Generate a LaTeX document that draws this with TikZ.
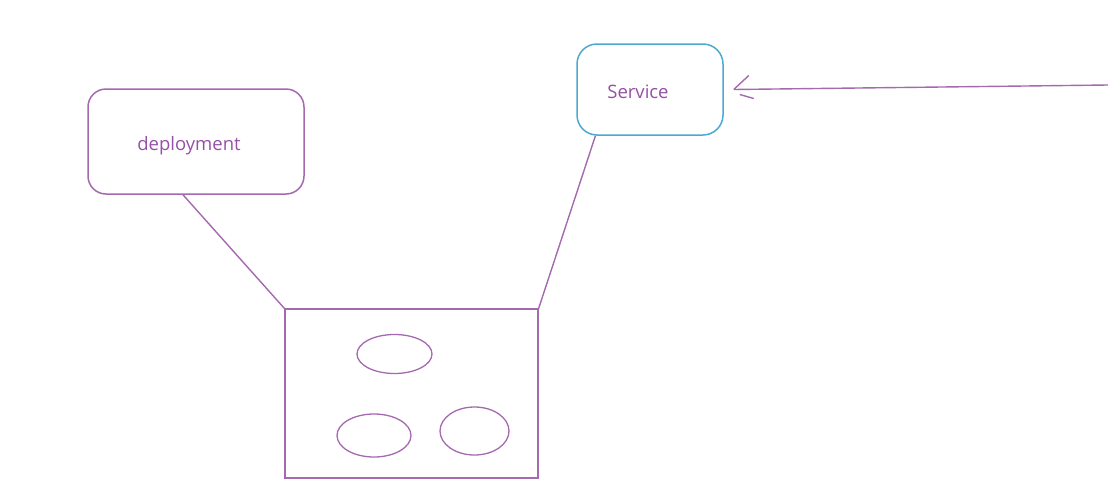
\documentclass[tikz,border=0pt]{standalone}
\usepackage{fontspec}
\setmainfont{Open Sans}
\usetikzlibrary{calc}
\definecolor{pline}{RGB}{165,105,175}
\definecolor{ptext}{RGB}{150,80,165}
\definecolor{sblue}{RGB}{75,170,210}
\tikzset{
  box/.style={draw=pline, line width=1.5pt, rounded corners=18pt, inner sep=0pt, text=ptext, font=\fontsize{18.5}{22}\selectfont},
  link/.style={draw=pline, line width=1.4pt},
  oval/.style={draw=pline, line width=1.3pt}
}
\begin{document}
\begin{tikzpicture}[x=1pt,y=-1pt]
\useasboundingbox (0,0) rectangle (1111,501);
\node[box, minimum width=216pt, minimum height=105pt] (dep) at (196,141.5) {\raisebox{-9pt}[0pt][0pt]{\hspace*{-14pt}deployment}};
\node[box, draw=sblue, minimum width=146pt, minimum height=91pt, rounded corners=20pt] (svc) at (650,89.5) {\raisebox{-9pt}[0pt][0pt]{\hspace*{-24pt}Service}};
\node[draw=pline, line width=1.4pt, minimum width=253pt, minimum height=169pt, inner sep=0pt] (podbox) at (411.5,393.5) {};
\draw[oval] (394.5,354) ellipse [x radius=37.5pt, y radius=19.5pt];
\draw[oval] (374,435.5) ellipse [x radius=37pt, y radius=21.5pt];
\draw[oval] (474.5,431) ellipse [x radius=34.5pt, y radius=24pt];
\draw[link] ($(dep.south west)!0.44!(dep.south east)$) -- (podbox.north west);
\draw[link] ($(svc.south west)!0.13!(svc.south east)$) -- (podbox.north east);
\coordinate (src) at (1108,85);
\coordinate (tip) at ([xshift=10pt]svc.east);
\draw[link] (src) -- (tip);
\draw[link] (tip) -- ++(15,-14);
\draw[link] (tip) ++(6,5) -- ++(14,4);
\end{tikzpicture}
\end{document}
